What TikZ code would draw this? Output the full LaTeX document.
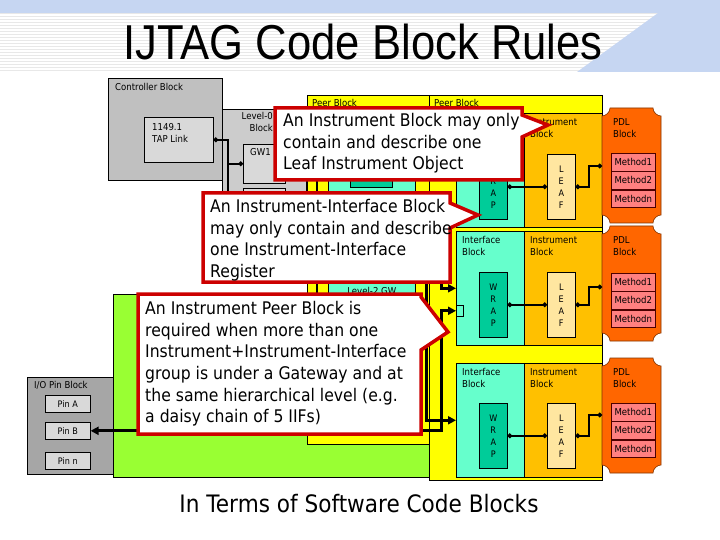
\documentclass[tikz,border=0pt]{standalone}
\usepackage{fontspec}
\setmainfont[FakeStretch=0.9]{DejaVu Sans}
\newfontfamily\titlefont[FakeStretch=0.89]{Liberation Sans}
\usepackage{tikz}
\usetikzlibrary{positioning,arrows.meta}
\definecolor{bandblue}{RGB}{198,214,242}
\definecolor{ctrlgray}{RGB}{192,192,192}
\definecolor{lvlgray}{RGB}{204,204,204}
\definecolor{boxgray}{RGB}{217,217,217}
\definecolor{iogray}{RGB}{166,166,166}
\definecolor{gwgreen}{RGB}{153,255,51}
\definecolor{peeryellow}{RGB}{255,255,0}
\definecolor{ifcyan}{RGB}{102,255,204}
\definecolor{wrapteal}{RGB}{0,204,153}
\definecolor{instorange}{RGB}{255,192,0}
\definecolor{leafcream}{RGB}{255,230,160}
\definecolor{pdlorange}{RGB}{255,102,0}
\definecolor{methpink}{RGB}{255,128,128}
\definecolor{calloutred}{RGB}{204,0,0}

\begin{document}
\begin{tikzpicture}[x=1pt, y=-1pt, >={Triangle[length=8pt,width=8pt]},
  blk/.style={draw, line width=0.6pt, anchor=north west, inner sep=0pt},
  lbl/.style={align=left, inner sep=0pt, anchor=north west, font=\fontsize{9.5}{12}\selectfont},
  bar/.style={blk, minimum width=28, minimum height=65, align=center, font=\fontsize{9}{12}\selectfont},
  meth/.style={blk, fill=methpink, draw=black!70!red, minimum width=44, minimum height=17.7, font=\fontsize{9.5}{11}\selectfont},
  pdl/.style={fill=pdlorange, draw=black!50!pdlorange, line width=0.6pt},
  wire/.style={line width=2pt},
  bus/.style={line width=3pt},
  dots/.style={arrows={Circle[length=4.5pt]-Circle[length=4.5pt]}},
  callout/.style={fill=white, draw=calloutred, line width=3.5pt, line join=miter},
  rule/.style={align=left, inner sep=0pt, anchor=north west, font=\fontsize{17.4}{21.7}\selectfont}]

\useasboundingbox (0,0) rectangle (720,540);
\fill[white] (0,0) rectangle (720,540);

% title banner
\foreach \s in {14,17,...,71}
  \draw[gray!18, line width=1pt] (0,\s) -- (720,\s);
\fill[bandblue] (0,0) rectangle (720,13);
\fill[bandblue] (658,13) -- (720,13) -- (720,72) -- (577,72) -- cycle;
\node[anchor=base, inner sep=0pt, font=\titlefont\fontsize{49}{50}\selectfont] (title) at (363,60) {IJTAG Code Block Rules};

% controller and level-0 gateway
\node[blk, fill=ctrlgray, minimum width=114, minimum height=102] (ctrl) at (108,78) {};
\node[lbl, below right=5pt and 7pt of ctrl.north west] {Controller Block};
\node[blk, fill=boxgray, minimum width=69, minimum height=45] (tap) at (144,117) {};
\node[lbl, below right=6pt and 8pt of tap.north west] {1149.1\\TAP Link};
\node[blk, fill=lvlgray, minimum width=84, minimum height=166] (lvl0) at (222,109) {};
\node[lbl, align=right, anchor=north east] at (273,112) {Level-0\\Block};
\node[blk, fill=boxgray, minimum width=42, minimum height=39] (gw1) at (243,144) {};
\node[lbl, below right=4pt and 7pt of gw1.north west] {GW1};
\node[blk, fill=boxgray, minimum width=42, minimum height=42] (gw2) at (243,188) {};
\coordinate (tapbus) at (228,260);
\draw[wire, arrows={Circle[length=4.5pt]-}] (tap.east) -| (tapbus);
\draw[wire, arrows={-Circle[length=4.5pt]}] (gw1.west -| tapbus) -- (gw1.west);

% pins and level-1 gateway
\node[blk, fill=gwgreen, minimum width=317, minimum height=183] (lvl1) at (113,294) {};
\node[blk, fill=iogray, minimum width=86, minimum height=97] (io) at (27,377) {};
\node[lbl, below right=4pt and 7pt of io.north west] {I/O Pin Block};
\node[blk, fill=boxgray, minimum width=45, minimum height=17, font=\fontsize{9}{10}\selectfont] (pina) at (45,395) {Pin A};
\node[blk, fill=boxgray, minimum width=45, minimum height=17, font=\fontsize{9}{10}\selectfont] (pinb) at (45,422) {Pin B};
\node[blk, fill=boxgray, minimum width=45, minimum height=17, font=\fontsize{9}{10}\selectfont] (pinn) at (45,452) {Pin n};

% peer blocks
\node[blk, fill=peeryellow, minimum width=122, minimum height=349] (peerA) at (307,95) {};
\node[lbl, below right=4pt and 5pt of peerA.north west] {Peer Block};
\node[blk, fill=ifcyan, minimum width=87, minimum height=162] (gwA) at (328,113) {};
\node[blk, fill=wrapteal, minimum width=42, minimum height=37] (sibA) at (350,150) {};
\node[blk, fill=ifcyan, minimum width=87, minimum height=142] (gwB) at (328,283) {};
\node[lbl, anchor=north, below=4pt of gwB.north] {Level-2 GW};
\coordinate (chaintop) at (317,113);
\coordinate (chainbot) at (317,425);
\draw[wire] (chaintop) -- (chainbot);

\node[blk, fill=peeryellow, minimum width=173, minimum height=385] (peerB) at (429,95) {};
\node[lbl, below right=4pt and 5pt of peerB.north west] {Peer Block};

\begin{scope}[shift={(0,113)}]
\node[blk, fill=ifcyan, minimum width=68, minimum height=114] (iface1) at (456,0) {};
\node[blk, fill=instorange, minimum width=78, minimum height=114] (inst) at (524,0) {};
\node[lbl, below right=5pt and 6pt of inst.north west] {Instrument\\Block};
\node[bar, fill=wrapteal] (wrap) at (479,41) {W\\R\\A\\P};
\node[bar, fill=leafcream] (leaf) at (547,41) {L\\E\\A\\F};
\path[pdl] (610,-5) -- (653,-5) .. controls (653,-0.6) and (657.4,3) .. (661,3) -- (661,102) .. controls (657.4,102) and (653,105.6) .. (653,110) -- (610,110) .. controls (610,105.6) and (605.6,102) .. (602,102) -- (602,3) .. controls (605.6,3) and (610,-0.6) .. (610,-5) -- cycle;
\coordinate (pdlin) at (602,53);
\node[lbl] (pdl) at (613,5) {PDL\\Block};
\node[meth] (m1) at (611,40) {Method1};
\node[meth, below=0pt of m1] (m2) {Method2};
\node[meth, below=0pt of m2] (m3) {Methodn};
\draw[wire, dots] (wrap.east) -- (leaf.west);
\draw[wire, dots] (leaf.east) -- ++(13,0) |- (pdlin);
\end{scope}

\begin{scope}[shift={(0,231)}]
\node[blk, fill=ifcyan, minimum width=68, minimum height=114] (iface2) at (456,0) {};
\node[blk, fill=instorange, minimum width=78, minimum height=114] (inst) at (524,0) {};
\node[lbl, below right=5pt and 6pt of iface2.north west] {Interface\\Block};
\node[lbl, below right=5pt and 6pt of inst.north west] {Instrument\\Block};
\node[bar, fill=wrapteal] (wrap) at (479,41) {W\\R\\A\\P};
\node[bar, fill=leafcream] (leaf) at (547,41) {L\\E\\A\\F};
\path[pdl] (610,-5) -- (653,-5) .. controls (653,-0.6) and (657.4,3) .. (661,3) -- (661,102) .. controls (657.4,102) and (653,105.6) .. (653,110) -- (610,110) .. controls (610,105.6) and (605.6,102) .. (602,102) -- (602,3) .. controls (605.6,3) and (610,-0.6) .. (610,-5) -- cycle;
\coordinate (pdlin) at (602,56);
\node[lbl] (pdl) at (613,5) {PDL\\Block};
\node[meth] (m1) at (611,42) {Method1};
\node[meth, below=0pt of m1] (m2) {Method2};
\node[meth, below=0pt of m2] (m3) {Methodn};
\node[blk, fill=ifcyan, minimum width=7, minimum height=11] (port) at (456,74) {};
\draw[wire, dots] (wrap.east) -- (leaf.west);
\draw[wire, dots] (leaf.east) -- ++(13,0) |- (pdlin);
\end{scope}

\begin{scope}[shift={(0,363)}]
\node[blk, fill=ifcyan, minimum width=68, minimum height=114] (iface3) at (456,0) {};
\node[blk, fill=instorange, minimum width=78, minimum height=114] (inst) at (524,0) {};
\node[lbl, below right=5pt and 6pt of iface3.north west] {Interface\\Block};
\node[lbl, below right=5pt and 6pt of inst.north west] {Instrument\\Block};
\node[bar, fill=wrapteal] (wrap) at (479,40) {W\\R\\A\\P};
\node[bar, fill=leafcream] (leaf) at (547,40) {L\\E\\A\\F};
\path[pdl] (610,-5) -- (653,-5) .. controls (653,-0.6) and (657.4,3) .. (661,3) -- (661,102) .. controls (657.4,102) and (653,105.6) .. (653,110) -- (610,110) .. controls (610,105.6) and (605.6,102) .. (602,102) -- (602,3) .. controls (605.6,3) and (610,-0.6) .. (610,-5) -- cycle;
\coordinate (pdlin) at (602,52);
\node[lbl] (pdl) at (613,5) {PDL\\Block};
\node[meth] (m1) at (611,40) {Method1};
\node[meth, below=0pt of m1] (m2) {Method2};
\node[meth, below=0pt of m2] (m3) {Methodn};
\draw[wire, dots] (wrap.east) -- (leaf.west);
\draw[wire, dots] (leaf.east) -- ++(13,0) |- (pdlin);
\end{scope}

% daisy chain
\coordinate (busA) at (426,262);
\coordinate (busC) at (441,270);
\draw[bus, ->] (busA) |- (iface3.west);
\draw[bus, ->] (busC) |- (iface2.west);
\draw[bus, <->] (port.west) -- ++(-15,0) |- (pinb.east);

% rules
\draw[callout] (275,108) -- (522,108) -- (522,115) -- (548,125) -- (522,137) -- (522,180) -- (275,180) -- cycle;
\node[rule] (leafrule) at (283,113) {An Instrument Block may only\\contain and describe one\\Leaf Instrument Object};
\draw[callout] (203,193) -- (450,193) -- (450,203) -- (478,215) -- (450,228) -- (450,282) -- (203,282) -- cycle;
\node[rule] (ifacerule) at (210,199) {An Instrument-Interface Block\\may only contain and describe\\one Instrument-Interface\\Register};
\draw[callout] (138,294) -- (421,294) -- (421,297) -- (448,332) -- (421,350) -- (421,434) -- (138,434) -- cycle;
\node[rule] (peerrule) at (145,301) {An Instrument Peer Block is\\required when more than one\\Instrument+Instrument-Interface\\group is under a Gateway and at\\the same hierarchical level (e.g.\\a daisy chain of 5 IIFs)};

\node[anchor=base, inner sep=0pt, font=\fontsize{24}{26}\selectfont] (caption) at (359,512) {In Terms of Software Code Blocks};
\end{tikzpicture}
\end{document}
